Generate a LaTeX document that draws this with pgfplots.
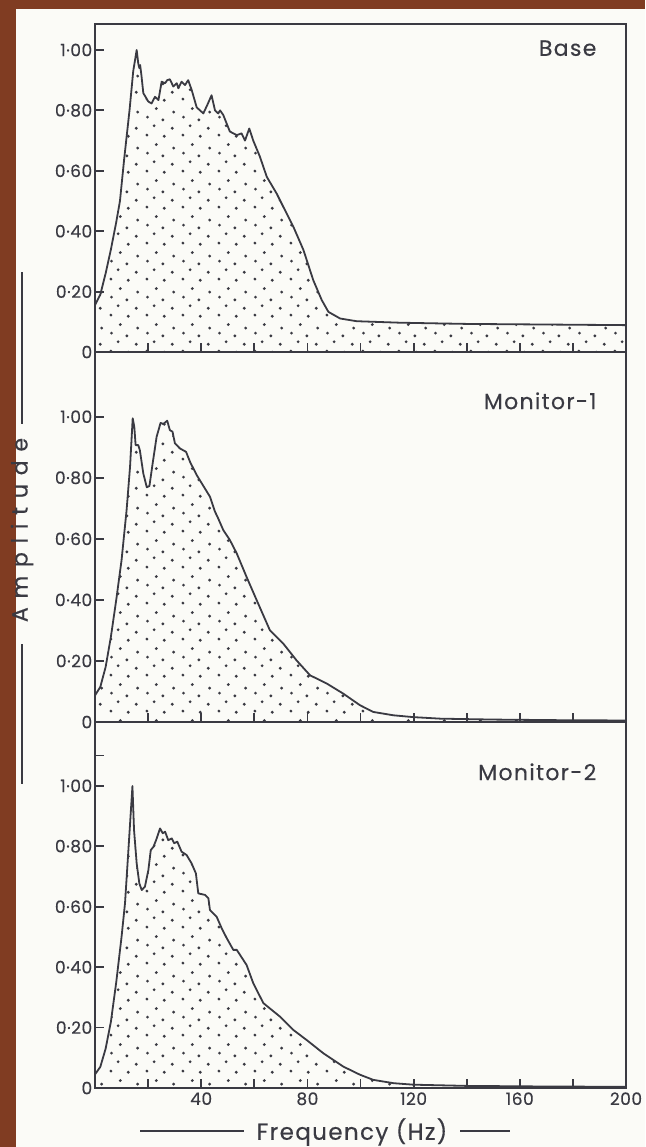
\documentclass[border=0pt]{standalone}
\usepackage{fontspec}
\setmainfont{Poppins}
\newfontfamily\tickfont[LetterSpace=3,FakeBold=0.3]{Poppins}
\newfontfamily\labfont[LetterSpace=6,FakeBold=0.3]{Poppins}
\newfontfamily\amplfont[LetterSpace=40,FakeBold=0.4]{Poppins}
\usepackage{pgfplots}
\pgfplotsset{compat=1.18}
\usepackage{pgfplotstable}
\usetikzlibrary{patterns}
\definecolor{ink}{RGB}{58,58,66}
\definecolor{paper}{RGB}{251,251,247}
\definecolor{wood}{RGB}{128,60,34}

\pgfdeclarepatternformonly{stipple}{\pgfqpoint{0pt}{0pt}}{\pgfqpoint{18pt}{18pt}}{\pgfqpoint{18pt}{18pt}}{%
  \pgfpathcircle{\pgfqpoint{1.5pt}{2pt}}{0.8pt}
  \pgfpathcircle{\pgfqpoint{10.4pt}{1.4pt}}{0.8pt}
  \pgfpathcircle{\pgfqpoint{5.2pt}{6.8pt}}{0.8pt}
  \pgfpathcircle{\pgfqpoint{14.5pt}{5.5pt}}{0.8pt}
  \pgfpathcircle{\pgfqpoint{1.8pt}{11.2pt}}{0.8pt}
  \pgfpathcircle{\pgfqpoint{9.7pt}{9.8pt}}{0.8pt}
  \pgfpathcircle{\pgfqpoint{6.3pt}{15.6pt}}{0.8pt}
  \pgfpathcircle{\pgfqpoint{15.2pt}{13.8pt}}{0.8pt}
  \pgfusepath{fill}}

\pgfplotstableread{
f a
0 0.155
2 0.19
4 0.26
6 0.34
8 0.43
9.4 0.50
11 0.64
13 0.80
14.4 0.93
15.7 1.00
16.3 0.955
16.7 0.94
17.0 0.95
17.5 0.915
18.2 0.857
20.1 0.829
21.3 0.823
22.6 0.845
23.9 0.834
25.1 0.895
26.4 0.89
27.2 0.90
28.2 0.903
29.5 0.879
30.8 0.89
31.4 0.873
32.6 0.895
33.9 0.884
35.1 0.90
36.4 0.868
38.3 0.81
40.8 0.79
42.3 0.818
43.9 0.85
45.2 0.80
46.4 0.79
47.1 0.80
48.3 0.785
50.8 0.73
53.4 0.718
55.2 0.724
56.5 0.70
58.1 0.74
59.6 0.70
62.1 0.647
64.7 0.58
68.4 0.525
70.9 0.481
74.7 0.415
78.5 0.338
82.2 0.238
85.4 0.172
87.9 0.133
92.3 0.111
98.5 0.102
114.9 0.097
140 0.093
170 0.091
200 0.089
}\base

\pgfplotstableread{
f a
0 0.087
2 0.115
4 0.18
6 0.28
8 0.40
10 0.53
11.9 0.694
13.2 0.836
14.2 0.995
14.8 0.967
15.3 0.907
16.3 0.907
16.9 0.89
18.2 0.814
19.5 0.769
20.5 0.773
21.9 0.858
23.2 0.934
24.7 0.98
25.7 0.976
27.2 0.987
28.2 0.956
29.2 0.951
30.1 0.913
32.0 0.896
34.3 0.885
35.8 0.852
38.3 0.809
40.2 0.782
41.4 0.765
43.3 0.738
45.2 0.689
46.4 0.667
48.3 0.629
50.8 0.596
53.4 0.552
57.1 0.475
60.9 0.399
65.9 0.30
70.9 0.257
75.9 0.202
81 0.153
87.3 0.126
93.5 0.093
99.8 0.055
104.8 0.033
112.4 0.022
119.9 0.016
130 0.011
150 0.008
175 0.006
200 0.005
}\monone

\pgfplotstableread{
f a
0 0.045
2 0.07
4 0.13
6 0.22
8 0.35
10 0.50
11.3 0.611
12.5 0.776
14.1 0.999
14.7 0.854
15.7 0.743
16.7 0.677
17.6 0.655
18.8 0.666
20.1 0.721
21 0.787
22 0.798
23 0.82
24.5 0.859
25.5 0.843
26.4 0.848
27.6 0.82
28.9 0.826
29.8 0.81
31 0.815
32.6 0.782
34.5 0.771
36.4 0.743
38 0.71
38.9 0.644
41.4 0.639
42.7 0.628
43.3 0.589
45.8 0.567
47.7 0.529
49.6 0.496
52.1 0.457
53.4 0.457
57.1 0.407
59.6 0.347
63.4 0.281
69.7 0.236
74.7 0.192
79.7 0.159
86 0.115
93.5 0.071
99.8 0.044
104.8 0.027
112.4 0.016
119.9 0.011
140 0.007
170 0.005
200 0.004
}\montwo

\pgfplotsset{
  panel/.style={
    scale only axis, width=265.5pt, anchor=south west,
    xmin=0, xmax=200, ymin=0,
    axis line style={ink, line width=1pt},
    tick style={ink, line width=0.9pt},
    tick align=inside, major tick length=4.5pt,
    xtick pos=bottom, ytick pos=left,
    xtick={20,40,60,80,100,120,140,160,180,200},
    xticklabels={},
    ytick={0,0.2,0.4,0.6,0.8,1},
    yticklabels={0,0·20,0·40,0·60,0·80,1·00},
    yticklabel style={font=\tickfont\fontsize{8.5}{10}\selectfont, text=ink, inner sep=1.2pt},
    xticklabel style={font=\tickfont\fontsize{8.5}{10}\selectfont, text=ink, inner sep=1.5pt, yshift=-0.5pt},
  },
  curve/.style={draw=ink, line width=0.9pt, line join=round,
    pattern=stipple, pattern color=ink},
}
\tikzset{
  plabel/.style={anchor=north east, inner sep=0pt, text=ink, font=\labfont\fontsize{11}{13}\selectfont},
}

\begin{document}
\begin{tikzpicture}
\path[use as bounding box] (0,0) rectangle (322.5pt,-573.5pt);
\fill[wood] (0,0) rectangle (322.5pt,-573.5pt);
\fill[paper] (8pt,-4.5pt) rectangle (322.5pt,-573.5pt);

% Base
\begin{axis}[panel, at={(47.5pt,-176pt)}, height=164pt, ymax=1.086]
\addplot[curve] table[x=f,y=a] {\base} \closedcycle;
\node[plabel] at (rel axis cs:0.945,0.951) {Base};
\end{axis}

% Monitor-1
\begin{axis}[panel, at={(47.5pt,-361pt)}, height=185pt, ymax=1.212]
\addplot[curve] table[x=f,y=a] {\monone} \closedcycle;
\node[plabel] at (rel axis cs:0.945,0.892) {Monitor-1};
\end{axis}

% Monitor-2
\begin{axis}[panel, at={(47.5pt,-544pt)}, height=183pt, ymax=1.211,
  xticklabels={,40,,80,,120,,160,,200},
  extra y ticks={1.1}, extra y tick labels={}]
\addplot[curve] table[x=f,y=a] {\montwo} \closedcycle;
\node[plabel] at (rel axis cs:0.945,0.888) {Monitor-2};
\end{axis}

% axis titles with rules
\node[text=ink, font=\labfont\fontsize{11.5}{13}\selectfont, inner sep=0pt] at (176pt,-566pt) {Frequency (Hz)};
\draw[ink, line width=0.8pt] (70pt,-565.5pt) -- (122pt,-565.5pt);
\draw[ink, line width=0.8pt] (230pt,-565.5pt) -- (255pt,-565.5pt);
\node[text=ink, font=\amplfont\fontsize{11}{13}\selectfont, inner sep=0pt, rotate=90] at (11pt,-265pt) {Amplitude};
\draw[ink, line width=0.8pt] (11pt,-136pt) -- (11pt,-212pt);
\draw[ink, line width=0.8pt] (11pt,-322pt) -- (11pt,-392pt);
\end{tikzpicture}
\end{document}
